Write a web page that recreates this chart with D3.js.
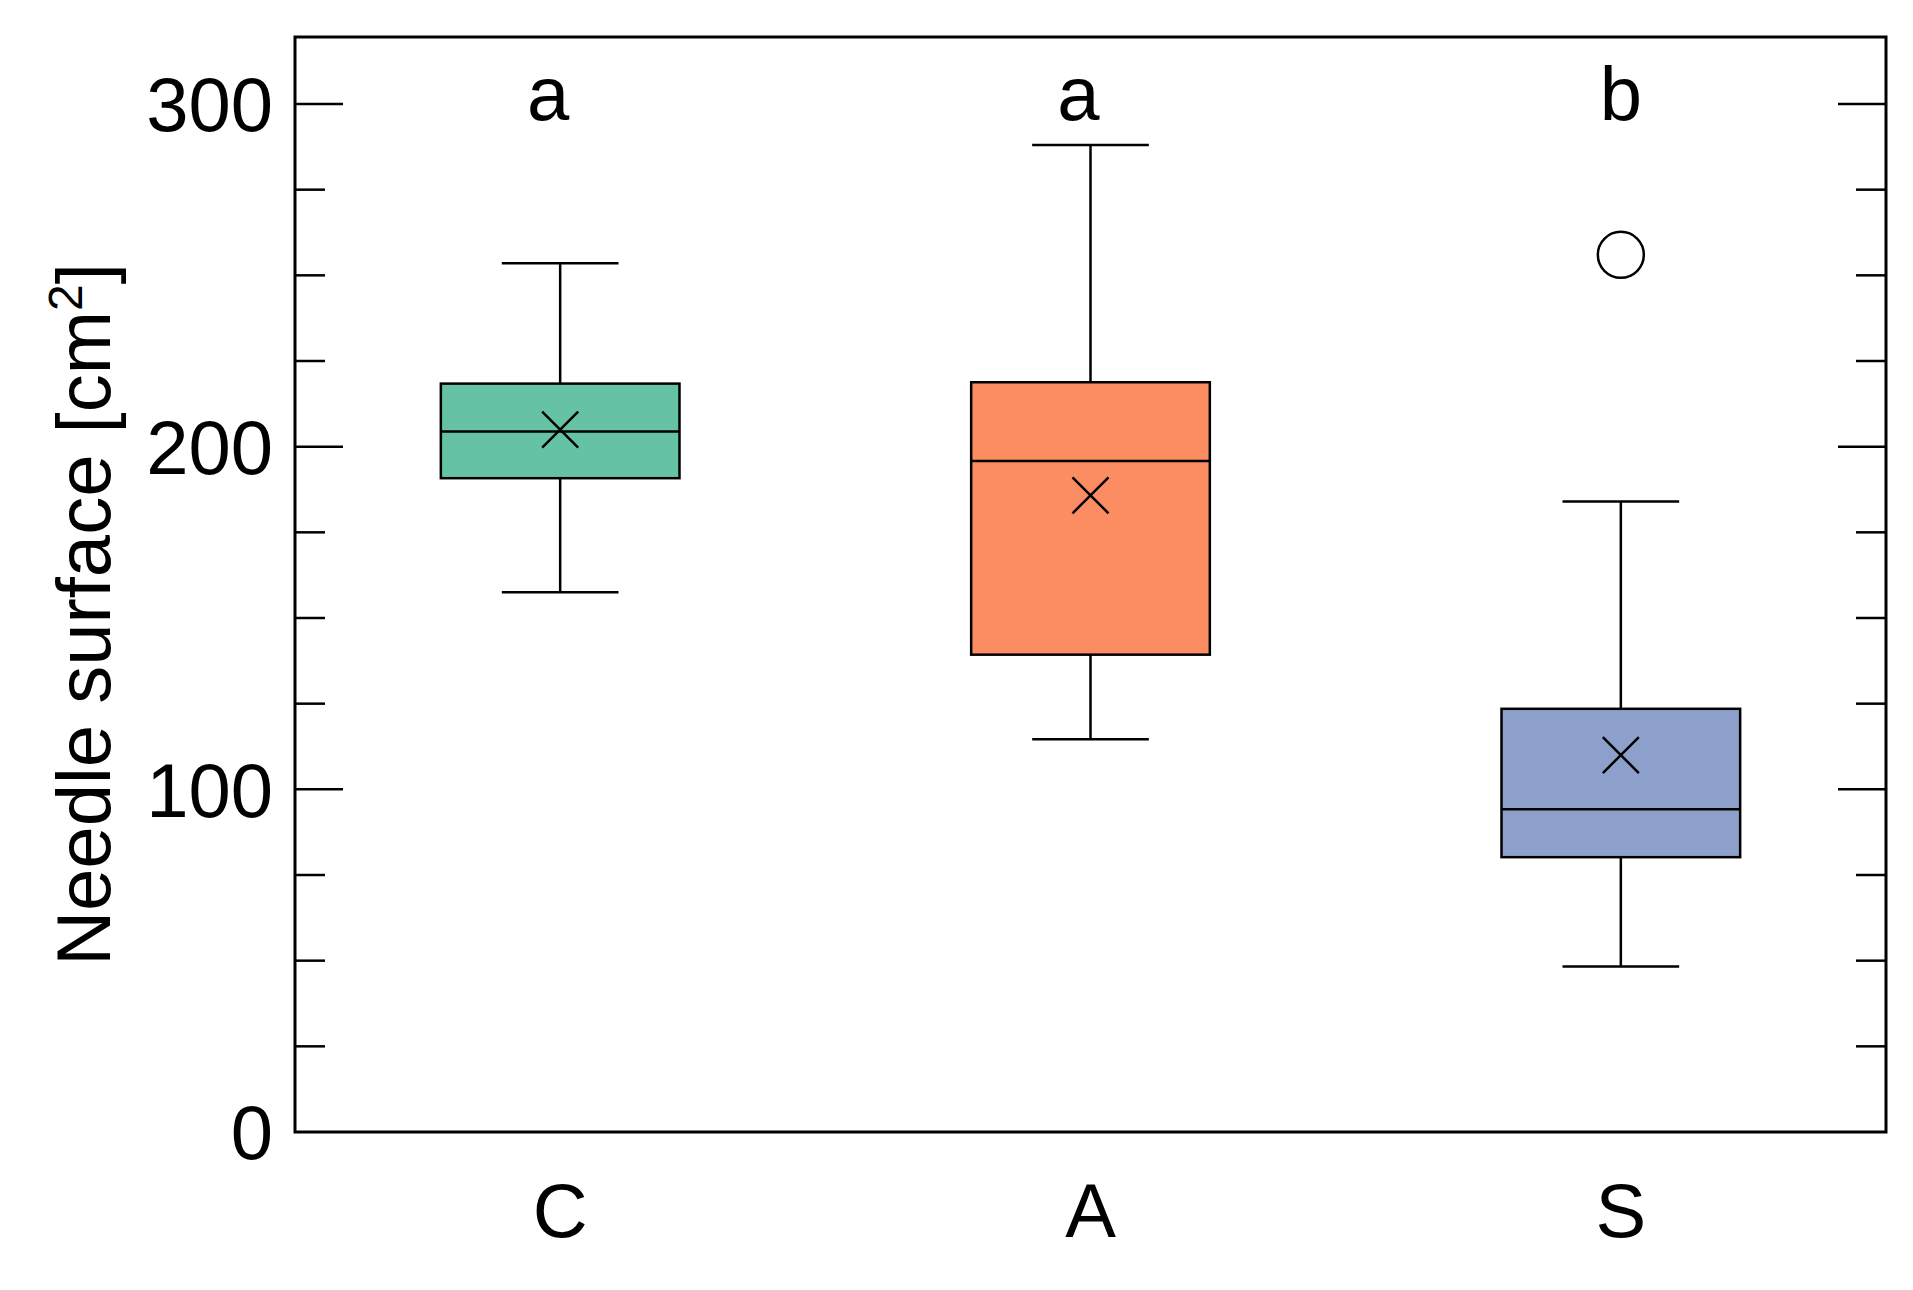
<!DOCTYPE html>
<html><head><meta charset="utf-8">
<script src="https://cdn.jsdelivr.net/npm/d3@7"></script>
<style>body{margin:0;background:#fff;font-family:"Liberation Sans",Arial,sans-serif}</style>
</head><body><svg id="chart" width="1913" height="1290"></svg>
<script>
// groups and box stats
const groups = ['C', 'A', 'S'];
const colors = ['#66c2a5', '#fc8d62', '#8da0cb'];
const letters = ['a', 'a', 'b'];
const lowWhisker = [157.5, 114.6, 48.3];
const q1 = [190.8, 139.3, 80.2];
const median = [204.4, 195.8, 94.2];
const q3 = [218.4, 218.8, 123.5];
const highWhisker = [253.5, 288, 184];
const means = [205, 185.8, 110];
const outliers = [[], [], [256]];
const majorTicks = [0, 100, 200, 300];

const svg = d3.select('#chart');
const m = {left: 295, right: 1886, top: 37, bottom: 1132};

const x = d3.scaleBand().domain(groups).range([m.left, m.right]).padding(0);
const y = d3.scaleLinear().domain([0, 300]).range([m.bottom, 104]);
const bw = x.bandwidth() * 0.45, cw = x.bandwidth() * 0.22;

// frame
svg.append('rect').attr('x', m.left).attr('y', m.top)
    .attr('width', m.right - m.left).attr('height', m.bottom - m.top)
    .attr('fill', 'none').attr('stroke', '#000').attr('stroke-width', 3);

// ticks on both sides
const minor = d3.range(25, 320, 25);
minor.forEach(v => {
    const len = v % 100 === 0 ? 48 : 30;
    [[m.left, m.left + len], [m.right, m.right - len]].forEach(p => {
        svg.append('line').attr('x1', p[0]).attr('x2', p[1])
            .attr('y1', y(v)).attr('y2', y(v)).attr('stroke', '#000').attr('stroke-width', 2.5);
    });
});
svg.selectAll('.ylab').data(majorTicks).join('text')
    .attr('x', m.left - 22).attr('y', d => y(d)).attr('dy', '0.36em')
    .attr('text-anchor', 'end').attr('font-size', 76).text(d => d);

svg.selectAll('.xlab').data(groups).join('text')
    .attr('x', d => x(d) + x.bandwidth() / 2).attr('y', 1237)
    .attr('text-anchor', 'middle').attr('font-size', 76).text(d => d);

svg.append('text').attr('transform', `translate(110,${(m.top + m.bottom) / 2 + 30}) rotate(-90)`)
    .attr('text-anchor', 'middle').attr('font-size', 76)
    .html('Needle surface [cm<tspan dy="-28" font-size="48">2</tspan><tspan dy="28">]</tspan>');

groups.forEach((g, i) => {
    const cx = x(g) + x.bandwidth() / 2;
    const gr = svg.append('g').attr('stroke', '#000').attr('stroke-width', 2.5);
    gr.append('line').attr('x1', cx).attr('x2', cx).attr('y1', y(highWhisker[i])).attr('y2', y(lowWhisker[i]));
    [highWhisker[i], lowWhisker[i]].forEach(v =>
        gr.append('line').attr('x1', cx - cw / 2).attr('x2', cx + cw / 2).attr('y1', y(v)).attr('y2', y(v)));
    gr.append('rect').attr('x', cx - bw / 2).attr('width', bw)
        .attr('y', y(q3[i])).attr('height', y(q1[i]) - y(q3[i])).attr('fill', colors[i]);
    gr.append('line').attr('x1', cx - bw / 2).attr('x2', cx + bw / 2).attr('y1', y(median[i])).attr('y2', y(median[i]));
    const my = y(means[i]), s = 18;
    gr.append('path').attr('d', `M${cx - s},${my - s}L${cx + s},${my + s}M${cx - s},${my + s}L${cx + s},${my - s}`);
    outliers[i].forEach(v => gr.append('circle').attr('cx', cx).attr('cy', y(v)).attr('r', 23).attr('fill', 'none'));
    svg.append('text').attr('x', cx - (i < 2 ? 12 : 0)).attr('y', 120).attr('text-anchor', 'middle')
        .attr('font-size', 76).text(letters[i]);
});
</script></body></html>
